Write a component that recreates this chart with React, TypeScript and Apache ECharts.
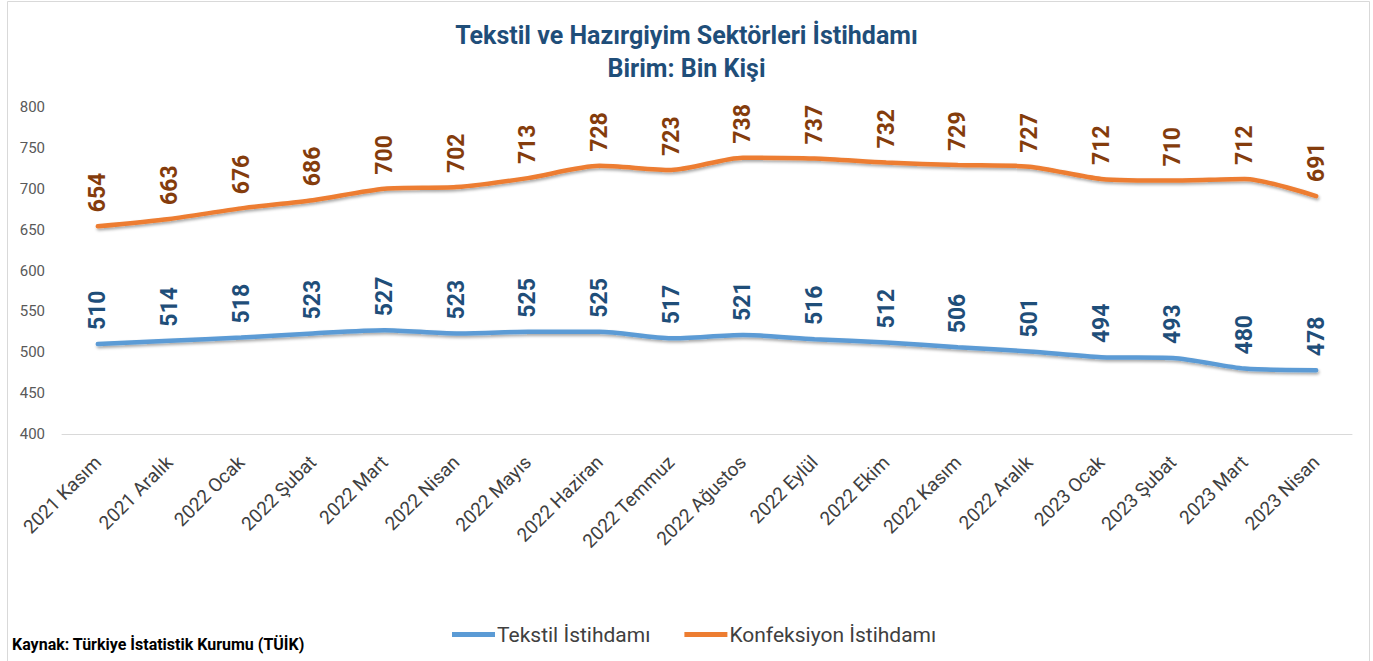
import React, { useEffect, useRef } from "react";
import * as echarts from "echarts";

const categories = [
  "2021 Kasım", "2021 Aralık", "2022 Ocak", "2022 Şubat", "2022 Mart", "2022 Nisan",
  "2022 Mayıs", "2022 Haziran", "2022 Temmuz", "2022 Ağustos", "2022 Eylül", "2022 Ekim",
  "2022 Kasım", "2022 Aralık", "2023 Ocak", "2023 Şubat", "2023 Mart", "2023 Nisan",
];
const tekstil = [510, 514, 518, 523, 527, 523, 525, 525, 517, 521, 516, 512, 506, 501, 494, 493, 480, 478];
const konfeksiyon = [654, 663, 676, 686, 700, 702, 713, 728, 723, 738, 737, 732, 729, 727, 712, 710, 712, 691];
const titleText = "Tekstil ve Hazırgiyim Sektörleri İstihdamı";
const subtitleText = "Birim: Bin Kişi";
const sourceText = "Kaynak: Türkiye İstatistik Kurumu (TÜİK)";

const FONT = "Roboto, 'Noto Sans', sans-serif";

export default function App() {
  const ref = useRef<HTMLDivElement>(null);
  useEffect(() => {
    if (!ref.current) return;
    const chart = echarts.init(ref.current, null, { renderer: "svg" });
    const labelCommon = {
      show: true,
      position: "top",
      rotate: 90,
      align: "left",
      verticalAlign: "middle",
      distance: 14,
      fontFamily: FONT,
      fontWeight: "bold",
      fontSize: 23,
    };
    const lineShadow = {
      width: 4.5,
      cap: "round",
      shadowColor: "rgba(0,0,0,0.35)",
      shadowBlur: 3,
      shadowOffsetY: 2,
      shadowOffsetX: 1,
    };
    chart.setOption({
      animation: false,
      backgroundColor: "#ffffff",
      textStyle: { fontFamily: FONT },
      title: [
        {
          text: titleText,
          left: "center",
          top: 18,
          textStyle: { fontFamily: FONT, fontWeight: "bold", fontSize: 25, color: "#1F4E79" },
        },
        {
          text: subtitleText,
          left: "center",
          top: 51,
          textStyle: { fontFamily: FONT, fontWeight: "bold", fontSize: 25, color: "#1F4E79" },
        },
      ],
      graphic: [
        {
          type: "rect",
          shape: { x: 7.5, y: 1.5, width: 1362, height: 680 },
          style: { fill: "none", stroke: "#d9d9d9", lineWidth: 1 },
          silent: true,
        },
        {
          type: "text",
          left: 12,
          top: 636,
          style: { text: sourceText, fontFamily: FONT, fontWeight: "bold", fontSize: 16, fill: "#000000" },
        },
      ],
      legend: {
        left: 447,
        top: 619,
        itemWidth: 43,
        itemHeight: 5,
        itemGap: 34,
        icon: "rect",
        textStyle: { fontFamily: FONT, fontSize: 21, color: "#404040", padding: [0, 0, 0, -3] },
        data: ["Tekstil İstihdamı", "Konfeksiyon İstihdamı"],
      },
      grid: { left: 62, right: 21, top: 107, bottom: 227, containLabel: false },
      xAxis: {
        type: "category",
        data: categories,
        boundaryGap: true,
        axisLine: { show: true, lineStyle: { color: "#d9d9d9", width: 1 } },
        axisTick: { show: false },
        axisLabel: {
          rotate: 45,
          interval: 0,
          margin: 25,
          fontFamily: FONT,
          fontSize: 19,
          color: "#404040",
        },
      },
      yAxis: {
        type: "value",
        min: 400,
        max: 800,
        interval: 50,
        axisLine: { show: false },
        axisTick: { show: false },
        splitLine: { show: false },
        axisLabel: { fontFamily: FONT, fontSize: 15, color: "#595959", margin: 17 },
      },
      series: [
        {
          name: "Tekstil İstihdamı",
          type: "line",
          data: tekstil,
          smooth: 0.25,
          symbol: "circle",
          symbolSize: 0.1,
          showSymbol: true,
          color: "#5B9BD5",
          itemStyle: { color: "#5B9BD5" },
          lineStyle: { ...lineShadow, color: "#5B9BD5" },
          label: { ...labelCommon, color: "#1F4E79" },
        },
        {
          name: "Konfeksiyon İstihdamı",
          type: "line",
          data: konfeksiyon,
          smooth: 0.25,
          symbol: "circle",
          symbolSize: 0.1,
          showSymbol: true,
          color: "#ED7D31",
          itemStyle: { color: "#ED7D31" },
          lineStyle: { ...lineShadow, color: "#ED7D31" },
          label: { ...labelCommon, color: "#843C0C" },
        },
      ],
    });
    return () => chart.dispose();
  }, []);
  return (
    <div
      ref={ref}
      style={{ position: "fixed", left: 0, top: 0, width: 1373, height: 661, background: "#fff" }}
    />
  );
}
